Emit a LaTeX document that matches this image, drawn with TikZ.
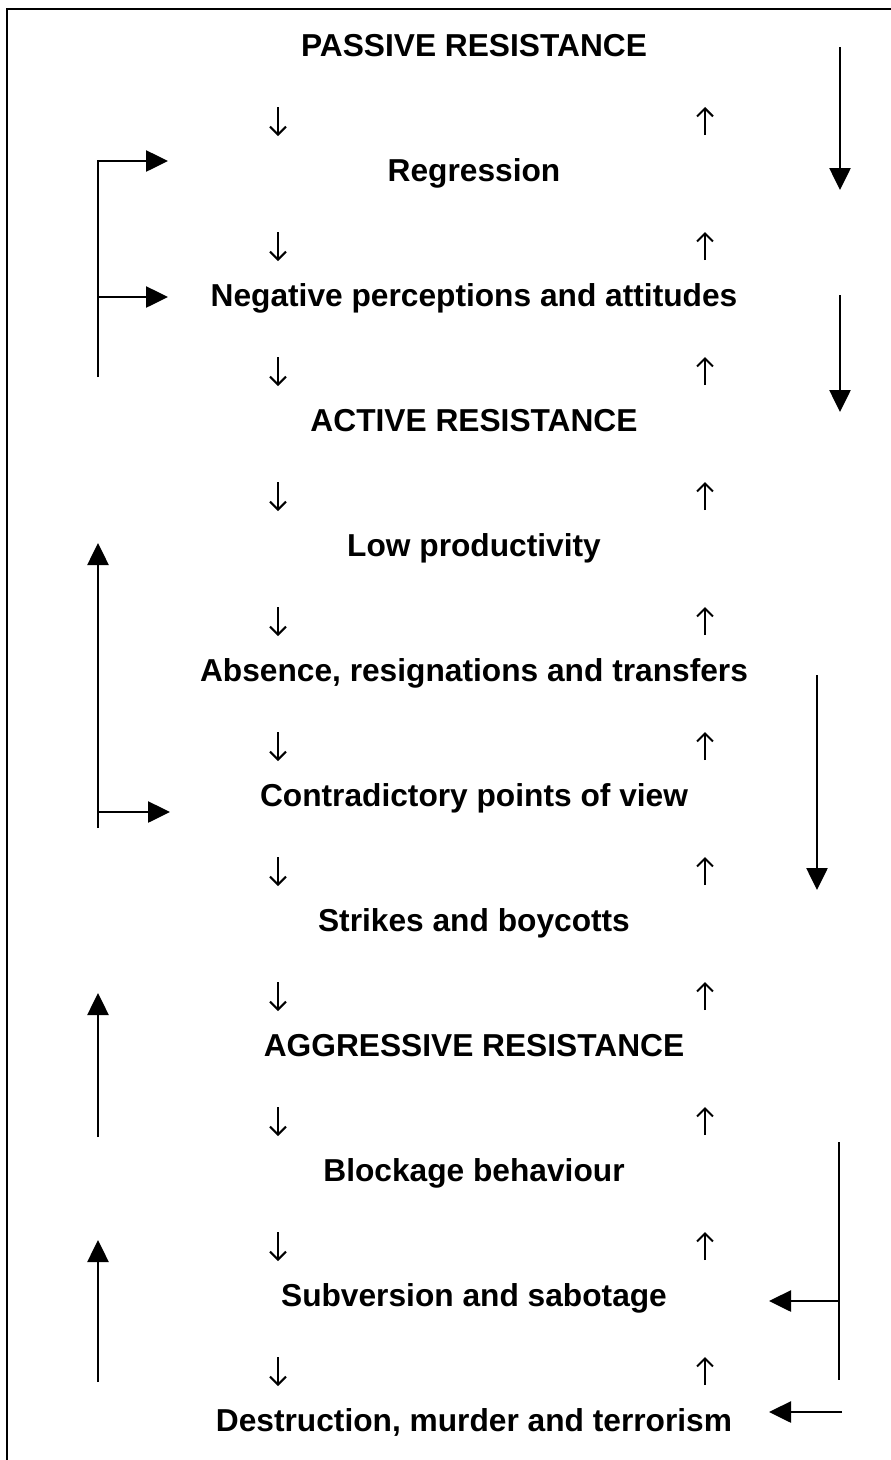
\documentclass[tikz,border=0pt]{standalone}
\usepackage{fontspec}
\setmainfont{Liberation Sans}
\usetikzlibrary{arrows.meta}
\begin{document}
\begin{tikzpicture}[x=1pt,y=-1pt,
  txt/.style={font=\fontsize{31.7}{38}\selectfont\bfseries, anchor=base, inner sep=0pt},
  big/.style={line width=2.6pt, -{Triangle[length=22pt,width=21pt]}},
  stem/.style={line width=2.6pt},
  small/.style={line width=2pt, -{Straight Barb[length=8pt,width=16pt,line width=2pt]}},
  frame/.style={line width=2pt}]
\useasboundingbox (0,0) rectangle (891,1460);

% frame (top and left edges)
\coordinate (fa) at (7,1460);
\coordinate (fb) at (7,9);
\coordinate (fc) at (891,9);
\draw[frame] (fa) -- (fb) -- (fc);

% stages, one every 125pt
\node[txt] (t0)  at (474,  56) {PASSIVE RESISTANCE};
\node[txt] (t1)  at (474, 181) {Regression};
\node[txt] (t2)  at (474, 306) {Negative perceptions and attitudes};
\node[txt] (t3)  at (474, 431) {ACTIVE RESISTANCE};
\node[txt] (t4)  at (474, 556) {Low productivity};
\node[txt] (t5)  at (474, 681) {Absence, resignations and transfers};
\node[txt] (t6)  at (474, 806) {Contradictory points of view};
\node[txt] (t7)  at (474, 931) {Strikes and boycotts};
\node[txt] (t8)  at (474,1056) {AGGRESSIVE RESISTANCE};
\node[txt] (t9)  at (474,1181) {Blockage behaviour};
\node[txt] (t10) at (474,1306) {Subversion and sabotage};
\node[txt] (t11) at (474,1431) {Destruction, murder and terrorism};

% small down / up arrows between the stages
\foreach \k in {0,...,10} {
  \coordinate (da\k) at (278,107+125*\k);
  \coordinate (db\k) at (278,136+125*\k);
  \draw[small] (da\k) -- (db\k);
  \coordinate (ua\k) at (705,135+125*\k);
  \coordinate (ub\k) at (705,107+125*\k);
  \draw[small] (ua\k) -- (ub\k);
}

% left side
\coordinate (l1b) at (98,377);
\coordinate (l1t) at (98,161);
\coordinate (l1m) at (98,297);
\coordinate (l1r) at (168,161);
\coordinate (l1s) at (168,297);
\draw[big] (l1b) -- (l1t) -- (l1r);
\draw[big] (l1m) -- (l1s);

\coordinate (l2b) at (98,828);
\coordinate (l2t) at (98,543);
\coordinate (l2m) at (98,812);
\coordinate (l2r) at (170,812);
\draw[big] (l2b) -- (l2t);
\draw[big] (l2m) -- (l2r);

\coordinate (l3b) at (98,1137);
\coordinate (l3t) at (98,993);
\draw[big] (l3b) -- (l3t);

\coordinate (l4b) at (98,1382);
\coordinate (l4t) at (98,1240);
\draw[big] (l4b) -- (l4t);

% right side
\coordinate (r1a) at (840,47);
\coordinate (r1b) at (840,190);
\draw[big] (r1a) -- (r1b);

\coordinate (r2a) at (840,295);
\coordinate (r2b) at (840,412);
\draw[big] (r2a) -- (r2b);

\coordinate (r3a) at (817,675);
\coordinate (r3b) at (817,890);
\draw[big] (r3a) -- (r3b);

\coordinate (r4t) at (839,1142);
\coordinate (r4b) at (839,1380);
\coordinate (r4m) at (839,1301);
\coordinate (r4l) at (769,1301);
\draw[stem] (r4t) -- (r4b);
\draw[big] (r4m) -- (r4l);

\coordinate (r5a) at (842,1412);
\coordinate (r5b) at (769,1412);
\draw[big] (r5a) -- (r5b);
\end{tikzpicture}
\end{document}
